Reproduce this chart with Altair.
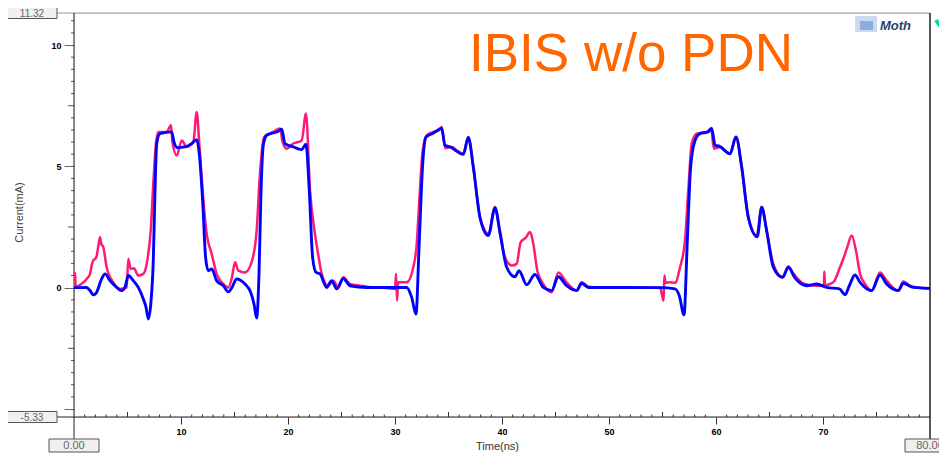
import altair as alt
import pandas as pd

F = "Liberation Sans"
title_text = "IBIS w/o PDN"
logo_text = "Moth"
x_title = "Time(ns)"
y_title = "Current(mA)"
x_domain = [0.0, 80.0]
y_domain = [-5.33, 11.32]
x_major = [10, 20, 30, 40, 50, 60, 70]
y_major = [-5, 0, 5, 10]
x_mid = [5, 15, 25, 35, 45, 55, 65, 75]
x_minor = [v for v in range(1, 80) if v % 5 != 0]
y_mid = [-2.5, 2.5, 7.5]
y_minor = [i * 0.5 for i in range(-10, 23) if (i * 0.5) % 2.5 != 0]

pink_t = [0.0, 0.1, 0.15, 0.5, 0.87, 1.18, 1.5, 1.65, 1.8, 2.0, 2.12, 2.3, 2.43, 2.55, 2.74, 3.05, 3.67, 4.3,
          4.92, 5.08, 5.3, 5.6, 6.0, 6.48, 6.85, 7.17, 7.41, 7.66, 7.88, 8.66, 9.07, 9.2, 9.6, 10.07, 10.53,
          11.15, 11.47, 11.71, 12.02, 12.4, 12.87, 13.33, 13.96, 14.42, 14.75, 15.05, 15.36, 15.98, 16.6,
          17.07, 17.38, 17.76, 18.63, 19.25, 19.5, 19.88, 20.5, 21.28, 21.68, 22.06, 22.52, 22.85, 23.15,
          23.77, 24.24, 24.7, 25.17, 25.79, 26.73, 27.5, 29.0, 30.0, 30.1, 30.19, 30.3, 31.09, 31.71, 32.03,
          32.27, 32.59, 32.96, 33.58, 34.0, 34.36, 34.5, 34.7, 35.3, 35.8, 36.39, 36.85, 37.32, 37.94, 38.4,
          38.72, 39.35, 39.81, 40.28, 40.9, 41.37, 41.74, 42.2, 42.62, 42.93, 43.3, 43.86, 44.64, 45.26,
          46.04, 46.98, 47.45, 48.07, 49.47, 54.77, 55.1, 55.17, 55.3, 55.7, 56.17, 56.64, 57.1, 57.41,
          57.73, 58.2, 59.13, 59.53, 59.81, 60.37, 61.31, 61.87, 62.4, 63.02, 63.8, 64.27, 64.73, 65.36,
          66.23, 66.76, 67.2, 68.16, 69.4, 70.09, 70.12, 70.18, 70.96, 71.59, 71.9, 72.27, 72.68, 73.08,
          73.46, 73.93, 74.55, 75.33, 75.95, 77.04, 77.5, 78.13, 79.0, 80.0]
pink_v = [0.57, 0.6, 0.05, 0.1, 0.22, 0.36, 0.57, 0.91, 1.12, 1.2, 1.3, 1.8, 2.08, 1.8, 1.67, 0.84, 0.22, -0.05,
          0.01, 1.19, 0.77, 0.8, 0.5, 0.57, 1.12, 2.36, 4.28, 5.94, 6.42, 6.42, 6.69, 6.0, 5.45, 6.07, 5.8,
          6.0, 7.24, 5.94, 4.0, 2.22, 1.39, 0.57, 0.15, 0.01, 0.4, 1.05, 0.7, 0.63, 1.05,
          2.36, 4.7, 6.21, 6.42, 6.56, 6.0, 5.73, 5.94, 6.07, 7.18, 4.0, 2.22, 1.3, 0.57,
          0.08, 0.29, 0.01, 0.43, 0.15, 0.08, 0.03, 0.0, -0.05, 0.57, -0.54, 0.22, 0.22, 0.84, 1.8,
          3.6, 5.66, 6.28, 6.42, 6.45, 6.62, 6.3, 5.75, 5.8, 5.65, 5.52, 6.21, 4.97, 2.9, 2.35,
          2.22, 3.32, 2.22, 1.25, 0.91, 0.98, 1.87, 2.05, 2.29, 1.8, 0.7, 0.15, -0.19, 0.63,
          0.22, -0.12, 0.22, 0.04, 0.0, 0.0, -0.54, 0.5, 0.2, 0.22, 0.2, 0.84, 1.94, 4.0,
          5.94, 6.35, 6.42, 6.56, 5.73, 5.8, 5.52, 6.21, 4.97, 2.9, 2.15, 3.32, 2.36, 0.98,
          0.43, 0.87, 0.6, 0.18, 0.08, 0.08, 0.67, 0.1, 0.22, 0.84, 1.19, 1.67, 2.15, 1.53,
          0.57, 0.15, -0.12, 0.63, 0.29, -0.12, 0.25, 0.08, 0.0, -0.03]

blue_t = [0.0, 1.18, 1.5, 1.8, 2.1, 2.58, 2.9, 3.36, 3.99, 4.46, 4.75, 5.08, 5.54, 6.01, 6.48, 6.73, 6.95, 7.2,
          7.41, 7.57, 7.73, 8.04, 9.13, 9.35, 9.66, 10.37, 11.0, 11.47, 11.71, 12.02, 12.3, 12.55, 12.87,
          13.33, 13.96, 14.42, 14.75, 15.2, 15.98, 16.51, 16.82, 17.07, 17.29, 17.48, 17.69, 18.01, 19.1,
          19.41, 19.72, 20.5, 21.28, 21.68, 21.99, 22.3, 22.62, 22.99, 23.61, 24.08, 24.55, 25.17, 25.79,
          27.35, 31.09, 31.56, 31.96, 32.27, 32.59, 32.9, 33.58, 34.36, 34.67, 35.14, 36.39, 36.85, 37.32,
          37.94, 38.72, 39.35, 39.81, 40.44, 41.21, 41.59, 42.31, 43.08, 43.86, 44.64, 45.26, 46.04, 46.98,
          47.45, 48.07, 54.77, 56.17, 56.57, 57.01, 57.32, 57.63, 58.04, 58.5, 59.25, 59.6, 59.91, 60.3,
          61.31, 61.87, 62.4, 63.02, 63.86, 64.27, 64.73, 65.36, 66.23, 66.76, 67.38, 68.47, 69.41, 70.34,
          71.53, 72.06, 72.46, 72.99, 73.46, 74.55, 75.33, 75.95, 77.04, 77.5, 78.44, 80.0]
blue_v = [0.0, 0.01, -0.12, -0.29, -0.2, 0.36, 0.57, 0.29, 0.01, -0.12, 0.0, 0.5, 0.29, 0.01, -0.47, -0.81, -1.29,
          -0.54, 1.12, 4.0, 5.94, 6.35, 6.42, 6.0, 5.77, 5.8, 5.94, 6.1, 5.52, 3.6, 1.25, 0.7, 0.77,
          0.29, 0.08, -0.17, 0.0, 0.36, 0.15, -0.19, -0.67, -1.25, 0.57, 4.0, 5.87, 6.28, 6.45,
          6.53, 5.94, 5.8, 5.69, 5.91, 4.0, 1.25, 0.63, 0.57, 0.01, 0.29, -0.05, 0.38, 0.08,
          0.01, 0.01, -0.4, -1.09, 1.94, 5.11, 6.21, 6.37, 6.56, 5.87, 5.8, 5.5, 6.19, 4.97,
          2.9, 2.15, 3.29, 2.29, 0.84, 0.45, 0.7, 0.12, 0.54, 0.01, -0.12, 0.45, 0.08, -0.12,
          0.18, 0.01, 0.0, -0.05, -0.33, -1.12, 1.94, 4.97, 6.07, 6.35, 6.42, 6.56, 5.87, 5.83,
          5.52, 6.21, 4.97, 2.9, 2.1, 3.32, 2.36, 0.84, 0.43, 0.84, 0.4, 0.08, 0.15, 0.01,
          -0.05, -0.29, 0.08, 0.52, 0.22, -0.12, 0.52, 0.15, -0.12, 0.18, 0.01, -0.03]

W, H = 856, 404

xs = alt.Scale(domain=x_domain, nice=False, zero=False)
ys = alt.Scale(domain=y_domain, nice=False, zero=False)

x_axis = alt.Axis(values=x_major, format="d", tickSize=7, tickColor="#333", domain=False, grid=False,
                  labelFont=F, labelFontSize=9, labelFontWeight="bold", labelColor="#000", labelPadding=3,
                  labelFlush=False, title=x_title, titleFont=F, titleFontSize=11, titleFontWeight="normal",
                  titleColor="#333", titleX=423, titleY=29, titleBaseline="middle")
y_axis = alt.Axis(values=y_major, format="d", labelExpr="datum.value == -5 ? '' : datum.label",
                  tickSize=10, tickColor="#666", domain=False, grid=False,
                  labelFont=F, labelFontSize=9, labelFontWeight="bold", labelColor="#000", labelPadding=3,
                  title=y_title, titleFont=F, titleFontSize=11, titleFontWeight="normal", titleColor="#444",
                  titleAngle=-90, titleX=-55, titleY=H / 2 - 3, titleAlign="center", titleBaseline="middle")

X = alt.X("t:Q", scale=xs, axis=x_axis)
Y = alt.Y("v:Q", scale=ys, axis=y_axis)

df_p = pd.DataFrame({"t": pink_t, "v": pink_v, "i": range(len(pink_t))})
df_b = pd.DataFrame({"t": blue_t, "v": blue_v, "i": range(len(blue_t))})

pink = alt.Chart(df_p).mark_line(color="#ff1a75", strokeWidth=2.5, strokeJoin="round",
                                 interpolate="monotone").encode(x=X, y=Y, order="i:Q")
blue = alt.Chart(df_b).mark_line(color="#0000ff", strokeWidth=2.9, strokeJoin="round",
                                 interpolate="monotone").encode(x=X, y=Y, order="i:Q")

def xticks(vals, length):
    return alt.Chart(pd.DataFrame({"t": vals})).mark_rule(color="#333", strokeWidth=1).encode(
        x=X, y=alt.value(H - length), y2=alt.value(H))

def yticks(vals, length):
    return alt.Chart(pd.DataFrame({"v": vals})).mark_rule(color="#555", strokeWidth=1).encode(
        y=Y, x=alt.value(-length), x2=alt.value(0))

one = pd.DataFrame({"k": [0]})
frame = [
    alt.Chart(one).mark_rule(color="#999", strokeWidth=1.2).encode(
        x=alt.value(-17), x2=alt.value(W), y=alt.value(0)),
    alt.Chart(one).mark_rule(color="#222", strokeWidth=1).encode(
        x=alt.value(-17), x2=alt.value(W), y=alt.value(H)),
    alt.Chart(one).mark_rule(color="#222", strokeWidth=1).encode(
        x=alt.value(0), y=alt.value(0), y2=alt.value(H + 22)),
    alt.Chart(one).mark_rule(color="#222", strokeWidth=1.5).encode(
        x=alt.value(W), y=alt.value(0), y2=alt.value(H + 22)),
]

ybox_df = pd.DataFrame({"v": y_domain, "lab": [f"{v:.2f}" for v in y_domain]})
xbox_df = pd.DataFrame({"t": x_domain, "lab": [f"{v:.2f}" for v in x_domain]})

ybox = alt.Chart(ybox_df).mark_rect(fill="#f0f0f0", stroke="#555", strokeWidth=1,
                                     yOffset=-5.5, y2Offset=5.5).encode(
    y=Y, y2="v:Q", x=alt.value(-67), x2=alt.value(-17))
ybox_txt = alt.Chart(ybox_df).mark_text(font=F, fontSize=10, color="#666", align="center",
                                         baseline="middle", dy=0.5).encode(
    y=Y, x=alt.value(-42), text="lab:N")
xbox = alt.Chart(xbox_df).mark_rect(fill="#f0f0f0", stroke="#555", strokeWidth=1,
                                     xOffset=-25, x2Offset=25).encode(
    x=X, x2="t:Q", y=alt.value(H + 22), y2=alt.value(H + 35))
xbox_txt = alt.Chart(xbox_df).mark_text(font=F, fontSize=11, color="#666", align="center",
                                         baseline="middle").encode(
    x=X, y=alt.value(H + 28.5), text="lab:N")

title = alt.Chart(pd.DataFrame({"s": [title_text]})).mark_text(
    font=F, fontSize=53, color="#ff6600", align="left", baseline="alphabetic").encode(
    x=alt.value(395), y=alt.value(58), text="s:N")
logo_box = alt.Chart(one).mark_rect(fill="#c3d3ee", opacity=0.85).encode(
    x=alt.value(781), x2=alt.value(803), y=alt.value(3), y2=alt.value(19))
logo_box2 = alt.Chart(one).mark_rect(fill="#6f9bd8", opacity=0.7).encode(
    x=alt.value(786), x2=alt.value(799), y=alt.value(8), y2=alt.value(17))
logo = alt.Chart(pd.DataFrame({"s": [logo_text]})).mark_text(
    font=F, fontSize=13, fontStyle="italic", fontWeight="bold", color="#2a3f6e", align="left",
    baseline="middle").encode(x=alt.value(806), y=alt.value(13), text="s:N")
check = alt.Chart(one).mark_rule(color="#00e08a", strokeWidth=4).encode(
    x=alt.value(862), x2=alt.value(872), y=alt.value(7), y2=alt.value(22))

chart = alt.layer(
    xticks(x_minor, 2.5), xticks(x_mid, 5), yticks(y_minor, 3), yticks(y_mid, 6),
    *frame, pink, blue, ybox, ybox_txt, xbox, xbox_txt, title, logo_box, logo_box2, logo, check
).properties(
    width=W, height=H,
    autosize=alt.AutoSizeParams(type="none"),
    padding={"left": 66, "top": 5, "right": 9, "bottom": 37},
).configure_view(stroke=None).configure(background="white")

chart.save("out.html", embed_options={"renderer": "svg", "actions": False})
